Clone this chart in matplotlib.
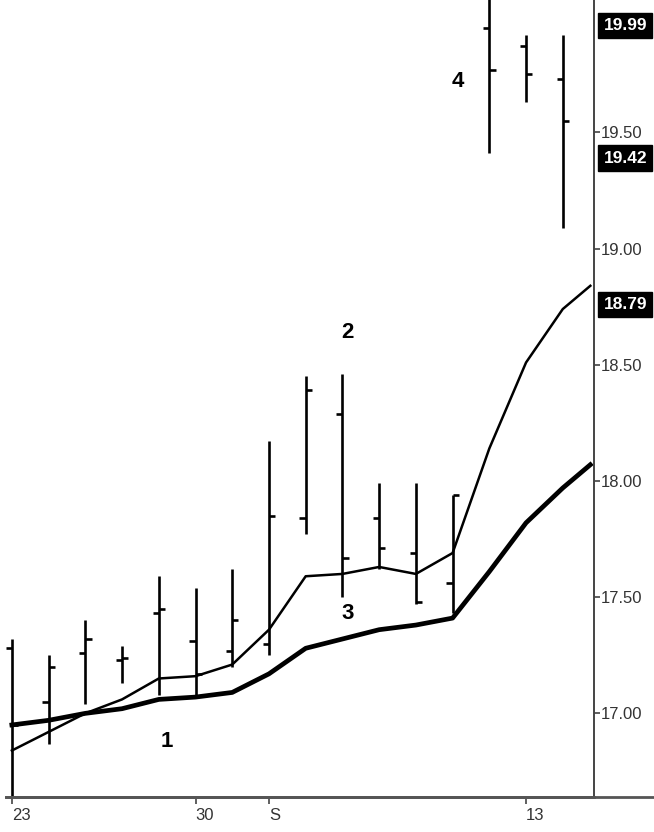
import numpy as np
import matplotlib.pyplot as plt
import matplotlib.transforms as mtransforms

# daily bars, Aug 23 .. Sep 14
opens = [17.28, 17.05, 17.26, 17.23, 17.43, 17.31, 17.27, 17.30, 17.84, 18.29,
         17.84, 17.69, 17.56, 19.95, 19.87, 19.73]
highs = [17.32, 17.25, 17.40, 17.29, 17.59, 17.54, 17.62, 18.17, 18.45, 18.46,
         17.99, 17.99, 17.94, 20.12, 19.92, 19.92]
lows = [16.62, 16.87, 17.04, 17.13, 17.08, 17.07, 17.20, 17.25, 17.77, 17.50,
        17.62, 17.47, 17.43, 19.41, 19.63, 19.09]
closes = [16.95, 17.20, 17.32, 17.24, 17.45, 17.17, 17.40, 17.85, 18.39, 17.67,
          17.71, 17.48, 17.94, 19.77, 19.75, 19.55]

# moving averages (last value = extension to the right edge)
ma_x = [0, 1, 2, 3, 4, 5, 6, 7, 8, 9, 10, 11, 12, 13, 14, 15, 15.75]
ma_fast = [16.84, 16.92, 17.00, 17.06, 17.15, 17.16, 17.21, 17.36, 17.59, 17.60,
           17.63, 17.60, 17.69, 18.14, 18.51, 18.74, 18.84]
ma_slow = [16.95, 16.97, 17.00, 17.02, 17.06, 17.07, 17.09, 17.17, 17.28, 17.32,
           17.36, 17.38, 17.41, 17.61, 17.82, 17.97, 18.07]

date_pos = [0, 5, 7, 14]
date_labels = ['23', '30', 'S', '13']
y_ticks = [17.0, 17.5, 18.0, 18.5, 19.0, 19.5]
last_values = [19.99, 19.42, 18.79]

# point labels 1..4
notes = ['1', '2', '3', '4']
note_x = [4.22, 9.15, 9.15, 12.14]
note_y = [16.88, 18.64, 17.43, 19.72]

narrow = ['Liberation Sans Narrow', 'Liberation Sans', 'DejaVu Sans']

fig = plt.figure(figsize=(6.54, 8.32), dpi=100)
ax = fig.add_axes([6 / 654, 35 / 832, 588 / 654, 797 / 832])

x = np.arange(len(opens))
tick_w = 0.17
for i in x:
    ax.plot([i, i], [lows[i], highs[i]], color='black', lw=1.9, solid_capstyle='butt')
    ax.plot([i - tick_w, i], [opens[i], opens[i]], color='black', lw=1.9, solid_capstyle='butt')
    ax.plot([i, i + tick_w], [closes[i], closes[i]], color='black', lw=1.9, solid_capstyle='butt')

ax.plot(ma_x, ma_fast, color='black', lw=1.8)
ax.plot(ma_x, ma_slow, color='black', lw=3.4)

for t, nx, ny in zip(notes, note_x, note_y):
    ax.text(nx, ny, t, fontsize=16, ha='center', va='center', family=narrow,
            fontweight='bold')

ax.set_xlim(-0.16, 15.85)
ax.set_ylim(16.64, 20.07)

# axes look
for s in ['top', 'left']:
    ax.spines[s].set_visible(False)
ax.spines['right'].set_color('#444444')
ax.spines['right'].set_linewidth(1.4)
ax.spines['bottom'].set_color('#555555')
ax.spines['bottom'].set_linewidth(2.0)
ax.plot([0, 1.11], [0, 0], transform=ax.transAxes, color='#555555', lw=2.0, clip_on=False)

ax.yaxis.tick_right()
ax.set_yticks(y_ticks)
ax.set_yticklabels(['%.2f' % v for v in y_ticks], fontsize=12, color='#333333', family=narrow)
ax.tick_params(axis='y', length=4, width=1.2, pad=1, color='#444444')

ax.set_xticks(date_pos)
ax.set_xticklabels(date_labels, fontsize=12, color='#333333', family=narrow, ha='left')
ax.tick_params(axis='x', length=5, width=1.2, pad=3, color='#444444')

# boxed last-value labels on the price scale (sit a few px below the value)
trans = mtransforms.blended_transform_factory(ax.transAxes, ax.transData)
trans = trans + mtransforms.ScaledTranslation(0, -7 / 100, fig.dpi_scale_trans)
for v in last_values:
    ax.text(1.016, v, '%.2f' % v, transform=trans, ha='left', va='center',
            fontsize=12.5, color='white', fontweight='bold', family=narrow,
            bbox=dict(boxstyle='square,pad=0.3', facecolor='black', edgecolor='black'))

fig.savefig('out.png', dpi=100)
